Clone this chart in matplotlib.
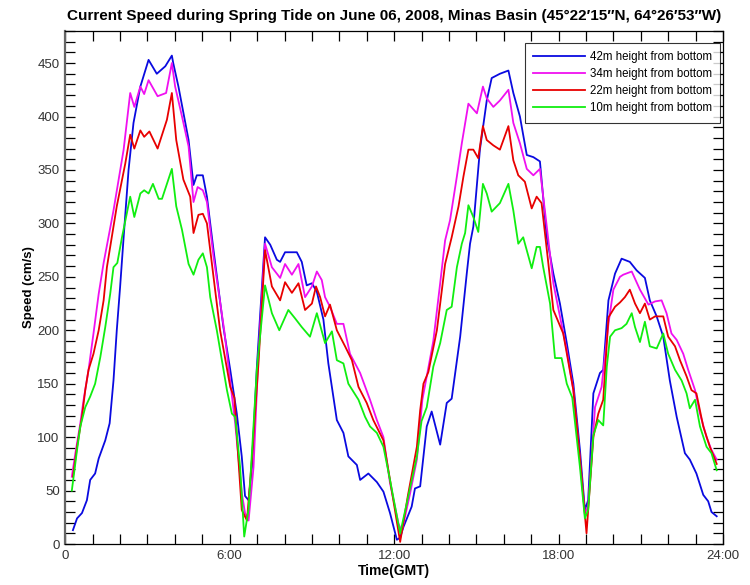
import numpy as np
import matplotlib
matplotlib.use("Agg")
import matplotlib.pyplot as plt
from matplotlib.ticker import MultipleLocator, FixedLocator

# time in hours (GMT), speed in cm/s
t_42 = [0.28, 0.43, 0.61, 0.79, 0.91, 1.09, 1.22, 1.46, 1.62, 1.76, 1.88, 2.0, 2.13, 2.31, 2.49,
        2.74, 3.04, 3.34, 3.65, 3.89, 3.94, 4.13, 4.5, 4.68, 4.8, 5.02, 5.17, 5.41, 5.77, 6.02,
        6.26, 6.44, 6.56, 6.69, 6.81, 6.99, 7.29, 7.48, 7.72, 7.84, 8.02, 8.45, 8.63, 8.81, 9.0,
        9.18, 9.42, 9.6, 9.91, 10.15, 10.33, 10.64, 10.76, 11.06, 11.37, 11.61, 11.85, 12.1, 12.22,
        12.34, 12.64, 12.76, 12.95, 13.19, 13.37, 13.68, 13.92, 14.1, 14.41, 14.65, 14.77, 14.89,
        15.13, 15.38, 15.56, 15.86, 16.17, 16.35, 16.59, 16.84, 17.08, 17.32, 17.57, 17.81, 18.05,
        18.3, 18.54, 18.78, 18.96, 19.08, 19.27, 19.51, 19.63, 19.82, 20.06, 20.3, 20.6, 20.85,
        21.15, 21.33, 21.58, 21.82, 22.06, 22.31, 22.61, 22.79, 23.03, 23.28, 23.46, 23.58, 23.77]
v_42 = [13, 24, 29, 41, 60, 66, 80, 97, 113, 153, 200, 240, 287, 350, 394,
        428, 453, 440, 447, 457, 450, 428, 378, 336, 345, 345, 325, 275, 203, 163,
        122, 82, 45, 41, 72, 165, 287, 280, 266, 264, 273, 273, 264, 242, 244,
        236, 210, 169, 116, 104, 82, 74, 60, 66, 58, 49, 29, 4, 6,
        16, 35, 52, 54, 110, 124, 93, 132, 136, 194, 253, 281, 297,
        369, 415, 436, 440, 443, 422, 400, 364, 362, 358, 287, 253, 225,
        188, 150, 88, 32, 41, 141, 160, 163, 228, 253, 267, 264, 256,
        249, 228, 213, 194, 153, 119, 85, 79, 66, 46, 40, 30, 26]

t_34 = [0.24, 0.37, 0.55, 0.67, 0.85, 1.03, 1.22, 1.4, 1.76, 2.13, 2.37, 2.52, 2.74, 2.88, 3.04,
        3.37, 3.68, 3.89, 4.01, 4.26, 4.5, 4.68, 4.83, 5.02, 5.17, 5.41, 5.8, 6.2, 6.44, 6.56,
        6.69, 6.87, 7.05, 7.29, 7.54, 7.84, 8.02, 8.27, 8.51, 8.75, 9.0, 9.18, 9.36, 9.48, 9.66,
        9.91, 10.15, 10.39, 10.76, 11.12, 11.37, 11.61, 11.85, 12.16, 12.28, 12.58, 12.83, 13.03,
        13.25, 13.43, 13.68, 13.86, 14.04, 14.29, 14.47, 14.71, 15.02, 15.24, 15.38, 15.62, 15.86,
        16.17, 16.35, 16.59, 16.84, 17.08, 17.32, 17.57, 17.81, 18.05, 18.3, 18.54, 18.78, 18.96,
        19.08, 19.33, 19.57, 19.82, 20.0, 20.24, 20.36, 20.67, 20.97, 21.28, 21.52, 21.76, 21.94,
        22.12, 22.31, 22.55, 22.73, 22.98, 23.16, 23.4, 23.58, 23.77]
v_34 = [63, 85, 113, 135, 163, 197, 234, 263, 312, 369, 422, 409, 428, 421, 434,
        419, 422, 450, 428, 400, 372, 320, 334, 331, 320, 269, 200, 113, 48, 29,
        22, 72, 178, 281, 259, 249, 262, 252, 262, 231, 241, 255, 247, 231, 222,
        206, 206, 178, 160, 135, 116, 100, 57, 19, 12, 47, 79, 135,
        165, 190, 244, 284, 303, 344, 375, 412, 403, 428, 417, 409, 415,
        425, 394, 375, 351, 345, 351, 297, 244, 213, 181, 144, 79, 29,
        35, 128, 147, 206, 238, 250, 252, 255, 238, 224, 227, 228, 216,
        197, 191, 178, 163, 144, 122, 100, 88, 79]

t_22 = [0.28, 0.43, 0.61, 0.73, 0.85, 1.03, 1.22, 1.4, 1.52, 1.88, 2.19, 2.37, 2.52, 2.74, 2.88,
        3.07, 3.37, 3.71, 3.89, 4.05, 4.31, 4.56, 4.68, 4.86, 5.02, 5.17, 5.41, 5.65, 6.02, 6.17,
        6.44, 6.63, 6.81, 7.05, 7.29, 7.54, 7.84, 8.02, 8.27, 8.51, 8.75, 9.0, 9.15, 9.3, 9.48,
        9.66, 9.91, 10.21, 10.46, 10.7, 11.0, 11.24, 11.61, 11.85, 12.22, 12.5, 12.83, 12.95,
        13.07, 13.25, 13.56, 13.86, 14.1, 14.35, 14.53, 14.71, 14.89, 15.07, 15.24, 15.38, 15.62,
        15.86, 16.17, 16.35, 16.53, 16.77, 17.02, 17.2, 17.38, 17.63, 17.81, 18.17, 18.54, 18.78,
        19.02, 19.27, 19.45, 19.63, 19.82, 20.06, 20.24, 20.42, 20.6, 20.79, 20.97, 21.15, 21.33,
        21.52, 21.82, 22.0, 22.25, 22.43, 22.67, 22.85, 23.03, 23.28, 23.52, 23.77]
v_22 = [63, 91, 119, 144, 163, 178, 200, 228, 259, 316, 356, 383, 370, 387, 381,
        386, 370, 397, 422, 378, 341, 325, 291, 308, 309, 300, 250, 200, 147, 137,
        32, 22, 79, 169, 275, 241, 228, 245, 235, 244, 219, 225, 241, 231, 213,
        224, 200, 185, 172, 147, 132, 116, 97, 60, 2, 45, 91, 125,
        150, 161, 200, 262, 287, 316, 344, 369, 369, 361, 391, 378, 373,
        369, 391, 359, 345, 339, 314, 325, 319, 262, 219, 197, 144, 80,
        10, 100, 122, 135, 212, 222, 226, 231, 238, 225, 216, 225, 210,
        213, 213, 194, 185, 172, 157, 144, 141, 110, 91, 75]

t_10 = [0.24, 0.43, 0.55, 0.73, 0.91, 1.09, 1.28, 1.46, 1.64, 1.76, 1.9, 2.07, 2.37, 2.52, 2.74,
        2.88, 3.04, 3.2, 3.41, 3.53, 3.71, 3.89, 4.05, 4.26, 4.5, 4.68, 4.86, 5.02, 5.17, 5.29,
        5.53, 5.9, 6.08, 6.2, 6.38, 6.53, 6.69, 6.99, 7.29, 7.54, 7.81, 8.14, 8.39, 8.63, 8.93,
        9.18, 9.48, 9.73, 9.91, 10.15, 10.33, 10.7, 10.94, 11.12, 11.37, 11.61, 11.85, 12.22,
        12.46, 12.83, 13.0, 13.19, 13.43, 13.68, 13.92, 14.1, 14.29, 14.47, 14.59, 14.71, 14.89,
        15.07, 15.24, 15.38, 15.56, 15.86, 16.17, 16.35, 16.53, 16.71, 17.02, 17.2, 17.32, 17.44,
        17.69, 17.87, 18.11, 18.3, 18.5, 18.78, 18.96, 19.08, 19.27, 19.45, 19.63, 19.76, 19.88,
        20.06, 20.3, 20.48, 20.67, 20.79, 20.97, 21.15, 21.33, 21.58, 21.82, 22.0, 22.25, 22.49,
        22.67, 22.79, 22.98, 23.16, 23.4, 23.58, 23.77]
v_10 = [50, 88, 110, 128, 138, 150, 175, 203, 234, 259, 263, 287, 325, 306, 328,
        331, 328, 337, 323, 323, 337, 351, 316, 294, 262, 252, 266, 272, 259, 231,
        200, 144, 122, 119, 72, 7, 33, 163, 242, 216, 200, 219, 211, 203, 194,
        216, 188, 199, 172, 169, 150, 135, 119, 110, 104, 91, 60, 10,
        38, 82, 115, 128, 166, 188, 219, 222, 259, 281, 291, 317, 306,
        292, 337, 328, 311, 319, 337, 312, 281, 287, 258, 278, 278, 259,
        225, 174, 174, 150, 137, 72, 24, 32, 102, 116, 111, 166, 194,
        200, 202, 206, 216, 203, 189, 208, 185, 183, 197, 178, 163, 153,
        141, 127, 135, 110, 91, 85, 69]

series = [
    (t_42, v_42, "42m height from bottom", "#0a0ae0"),
    (t_34, v_34, "34m height from bottom", "#f010f0"),
    (t_22, v_22, "22m height from bottom", "#e80000"),
    (t_10, v_10, "10m height from bottom", "#10ee10"),
]

x_major = [0, 6, 12, 18, 24]
x_major_labels = ["0", "6:00", "12:00", "18:00", "24:00"]

plt.rcParams["font.family"] = ["Liberation Sans", "DejaVu Sans"]

fig = plt.figure(figsize=(7.5, 5.85), dpi=100)
ax = fig.add_axes([0.087, 0.07, 0.877, 0.877])

for t, v, label, color in series:
    ax.plot(t, v, color=color, lw=1.3, label=label)

ax.set_xlim(0, 24)
ax.set_ylim(0, 480)
ax.xaxis.set_major_locator(FixedLocator(x_major))
ax.set_xticklabels(x_major_labels)
ax.xaxis.set_minor_locator(MultipleLocator(1))
ax.yaxis.set_major_locator(MultipleLocator(50))
ax.yaxis.set_minor_locator(MultipleLocator(10))
ax.set_yticks(np.arange(0, 451, 50))
ax.tick_params(which="both", direction="in", top=True, right=True,
               length=7, width=0.9, labelsize=9.5, pad=4, labelcolor="#333333")
for sp in ax.spines.values():
    sp.set_linewidth(0.9)
ax.spines["left"].set_color("#666666")
ax.spines["left"].set_linewidth(1.6)

ax.set_xlabel("Time(GMT)", fontsize=10, fontweight="bold", labelpad=2)
ax.set_ylabel("Speed (cm/s)", fontsize=9.5, fontweight="bold", labelpad=2)
ax.set_title("Current Speed during Spring Tide on June 06, 2008, Minas Basin "
             "(45\u00b022\u203215\u2032\u2032N, 64\u00b026\u203253\u2032\u2032W)",
             fontsize=11, fontweight="bold", pad=8)

leg = ax.legend(loc="upper right", bbox_to_anchor=(0.9955, 0.977), borderaxespad=0,
                fontsize=8.3, frameon=True, fancybox=False, handlelength=4.5,
                handletextpad=0.45, labelspacing=0.45, borderpad=0.7)
leg.get_frame().set_edgecolor("black")
leg.get_frame().set_linewidth(0.8)

fig.savefig("out.png", dpi=100)
